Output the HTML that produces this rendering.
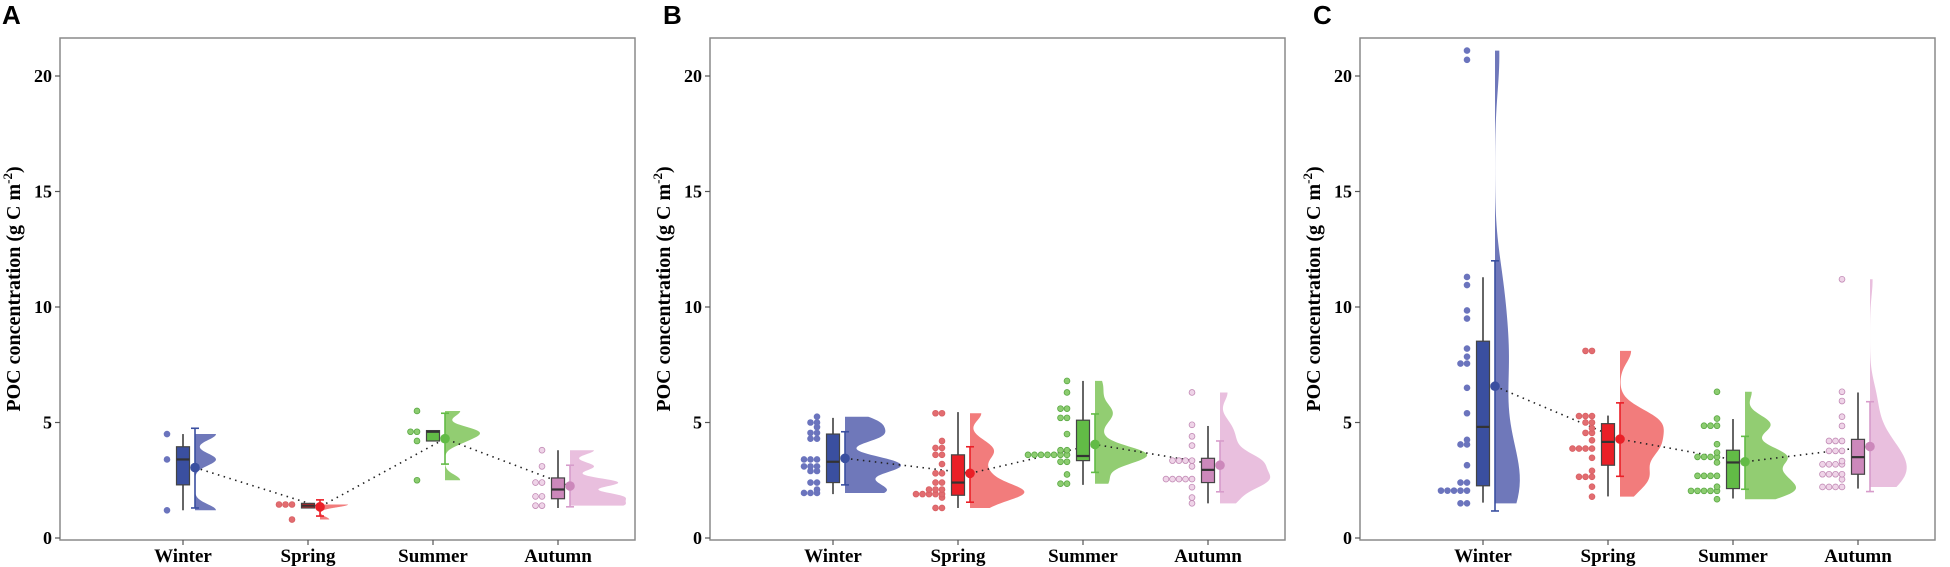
<!DOCTYPE html>
<html><head><meta charset="utf-8"><style>
html,body{margin:0;padding:0;background:#fff;}
svg{display:block;}
</style></head><body>
<svg id="chart" width="1950" height="567" xmlns="http://www.w3.org/2000/svg"></svg>
<script>
const seasons = ["Winter","Spring","Summer","Autumn"];
const yTicks = [0,5,10,15,20];
const panelLabels = ["A","B","C"];
// raw points per panel per season
const pointsA = [[4.5,3.4,1.2],[1.45,1.45,1.45,0.8],[5.5,4.6,4.6,4.2,2.5],[3.8,3.1,2.4,2.4,1.8,1.8,1.4,1.4]];
const pointsB = [[5.25,5.0,5.0,4.8,4.55,4.55,4.3,4.3,3.4,3.4,3.4,3.1,3.1,3.1,2.9,2.9,2.4,2.4,2.1,1.95,1.95,1.95],
 [5.4,5.4,4.2,3.9,3.9,3.6,3.6,3.2,2.8,2.8,2.4,2.4,2.1,2.1,2.1,1.9,1.9,1.9,1.9,1.9,1.75,1.3,1.3],
 [6.8,6.3,5.6,5.6,5.2,5.2,4.5,3.8,3.8,3.6,3.6,3.6,3.6,3.6,3.6,3.6,3.3,3.3,2.75,2.35,2.35],
 [6.3,4.9,4.4,4.0,3.35,3.35,3.35,3.35,3.1,2.55,2.55,2.55,2.55,2.55,2.2,1.75,1.5]];
const pointsC = [[21.1,20.7,11.3,10.95,9.85,9.5,8.2,7.85,7.55,7.55,6.5,5.4,4.25,4.05,4.05,3.15,2.4,2.4,2.05,2.05,2.05,2.05,2.05,1.5,1.5],
 [8.1,8.1,5.28,5.28,5.28,5.0,5.0,4.75,4.55,4.55,4.23,3.87,3.87,3.87,3.87,3.47,2.91,2.65,2.65,2.65,2.22,1.79],
 [6.33,5.17,4.86,4.86,4.86,4.06,3.7,3.51,3.51,3.51,3.51,3.27,2.69,2.69,2.69,2.69,2.22,2.04,2.04,2.04,2.04,2.04,1.68],
 [11.2,6.33,5.93,5.25,4.85,4.2,4.2,4.2,3.77,3.77,3.77,3.33,3.19,3.19,3.19,3.19,2.76,2.76,2.76,2.76,2.54,2.21,2.21,2.21,2.21]];
// box stats [lowWhisker, q1, median, q3, highWhisker]
const boxA = [[1.2,2.3,3.4,3.95,4.5],[1.3,1.3,1.4,1.5,1.5],[4.2,4.2,4.6,4.65,4.65],[1.3,1.7,2.1,2.6,3.8]];
const boxB = [[1.9,2.4,3.3,4.5,5.2],[1.3,1.85,2.4,3.6,5.45],[2.3,3.35,3.55,5.1,6.8],[1.5,2.4,2.95,3.45,4.85]];
const boxC = [[1.53,2.26,4.81,8.52,11.29],[1.8,3.15,4.16,4.95,5.3],[1.71,2.14,3.27,3.8,5.15],[2.14,2.76,3.5,4.27,6.3]];
// means and error bars [lo, hi]
const meanA = [3.05,1.35,4.3,2.25];
const meanB = [3.45,2.8,4.05,3.15];
const meanC = [6.57,4.28,3.3,3.96];
const errA = [[1.3,4.75],[0.95,1.65],[3.2,5.4],[1.35,3.15]];
const errB = [[2.3,4.6],[1.55,3.95],[2.84,5.37],[2.0,4.2]];
const errC = [[1.17,12.0],[2.67,5.85],[2.11,4.4],[2.01,5.9]];

const panels = [
 {label:"A", left:60, pts:pointsA, box:boxA, mean:meanA, err:errA},
 {label:"B", left:710, pts:pointsB, box:boxB, mean:meanB, err:errB},
 {label:"C", left:1360, pts:pointsC, box:boxC, mean:meanC, err:errC}
];
const col = [
 {box:"#3a4fa0", dot:"#6b74bd", dotStroke:"#6b74bd", vio:"#6f78ba", err:"#3a4fa0", mean:"#3a4fa0"},
 {box:"#ea1f27", dot:"#e26c70", dotStroke:"#d86064", vio:"#f27c7c", err:"#ea1f27", mean:"#ea1f27"},
 {box:"#62bb46", dot:"#8ccc70", dotStroke:"#5aa843", vio:"#92cd72", err:"#62bb46", mean:"#62bb46"},
 {box:"#cc88bb", dot:"#efd4e8", dotStroke:"#c28ab5", vio:"#e9bfde", err:"#d79ccb", mean:"#cc88bb"}
];
const NS="http://www.w3.org/2000/svg";
const svg=document.getElementById('chart');
function mk(tag,attrs,parent){const e=document.createElementNS(NS,tag);for(const k in attrs)e.setAttribute(k,attrs[k]);(parent||svg).appendChild(e);return e;}
const TOP=38,BOT=540,W=575;
function yS(v){return 538 - v*23.1;}
function xS(p,i){return p.left+123+i*125;}

panels.forEach((p,pi)=>{
 const g=mk('g',{});
 
 
 const lab=mk('text',{y:24,'font-family':'Liberation Sans, sans-serif','font-weight':'bold','font-size':'26'},g);
 lab.setAttribute('x', pi===0?2:p.left-47);
 lab.textContent=p.label;
 
 
 const fr=mk('rect',{x:p.left,y:TOP,width:W,height:BOT-TOP,fill:'none',stroke:'#8a8a8a','stroke-width':1.5},g);
 
 
 yTicks.forEach(t=>{
  const y=yS(t);
  mk('line',{x1:p.left-5,x2:p.left,y1:y,y2:y,stroke:'#555','stroke-width':1.2},g);
  const tx=mk('text',{x:p.left-8,y:y+6,'text-anchor':'end','font-family':'Liberation Serif, serif','font-weight':'bold','font-size':'18'},g);
  tx.textContent=t;
  
  
 });
 const yt=mk('text',{transform:`translate(${p.left-40},${(TOP+BOT)/2}) rotate(-90)`,'text-anchor':'middle','font-family':'Liberation Serif, serif','font-weight':'bold','font-size':'20'},g);
 yt.innerHTML='POC concentration (g C m<tspan dy="-8" font-size="13">-2</tspan><tspan dy="8">)</tspan>';
 
 
 seasons.forEach((s,i)=>{
  const x=xS(p,i);
  mk('line',{x1:x,x2:x,y1:BOT,y2:BOT+5,stroke:'#555','stroke-width':1.2},g);
  const tx=mk('text',{x:x,y:562,'text-anchor':'middle','font-family':'Liberation Serif, serif','font-weight':'bold','font-size':'19'},g);
  tx.textContent=s;
  
  
 });
 // violins
 seasons.forEach((s,i)=>{
  const x0=xS(p,i)+12, pts=p.pts[i], c=col[i];
  const mn=Math.min(...pts), mx=Math.max(...pts);
  const range=mx-mn; const bw=Math.max(0.12, range*0.08);
  const n=80, ys=[], ds=[];
  for(let k=0;k<=n;k++){const v=mn+range*k/n;let d=0;pts.forEach(q=>{d+=Math.exp(-0.5*((v-q)/bw)**2);});ys.push(v);ds.push(d);}
  const dmax=Math.max(...ds);
  const maxW = Math.min(56, 110/Math.sqrt(Math.max(range,0.5))) * Math.min(1, pts.length/8);
  let path=`M${x0},${yS(mn)}`;
  ys.forEach((v,k)=>{path+=` L${x0+ds[k]/dmax*maxW},${yS(v)}`;});
  path+=` L${x0},${yS(mx)} Z`;
  const vi=mk('path',{d:path,fill:c.vio,stroke:'none'},g);
  
  
 });
 // dotted mean line
 let dl='';
 seasons.forEach((s,i)=>{dl+=(i?' L':'M')+(xS(p,i)+12)+','+yS(p.mean[i]);});
 const ml=mk('path',{d:dl,fill:'none',stroke:'#222','stroke-width':1.6,'stroke-dasharray':'1.5,4.5'},g);
 
 
 seasons.forEach((s,i)=>{
  const cx=xS(p,i), c=col[i], b=p.box[i];
  const bins={};
  p.pts[i].forEach(v=>{const key=Math.round(v/0.17);(bins[key]=bins[key]||[]).push(v);});
  Object.keys(bins).forEach(k=>{
   bins[k].forEach((v,j)=>{
    const d=mk('circle',{cx:cx-16-j*6.5,cy:yS(v),r:2.9,fill:c.dot,stroke:c.dotStroke,'stroke-width':0.8},g);
    
    
   });
  });
  mk('line',{x1:cx,x2:cx,y1:yS(b[0]),y2:yS(b[4]),stroke:'#333','stroke-width':1.5},g);
  const r=mk('rect',{x:cx-6.5,y:yS(b[3]),width:13,height:Math.max(1,yS(b[1])-yS(b[3])),fill:c.box,stroke:'#444','stroke-width':1.2},g);
  
  
  mk('line',{x1:cx-6.5,x2:cx+6.5,y1:yS(b[2]),y2:yS(b[2]),stroke:'#333','stroke-width':2.2},g);
  const ex=cx+12, e=p.err[i];
  mk('line',{x1:ex,x2:ex,y1:yS(e[0]),y2:yS(e[1]),stroke:c.err,'stroke-width':1.6},g);
  mk('line',{x1:ex-4,x2:ex+4,y1:yS(e[0]),y2:yS(e[0]),stroke:c.err,'stroke-width':1.6},g);
  mk('line',{x1:ex-4,x2:ex+4,y1:yS(e[1]),y2:yS(e[1]),stroke:c.err,'stroke-width':1.6},g);
  const m=mk('circle',{cx:ex,cy:yS(p.mean[i]),r:4.8,fill:c.mean},g);
  
  
 });
});
</script>
</body></html>
